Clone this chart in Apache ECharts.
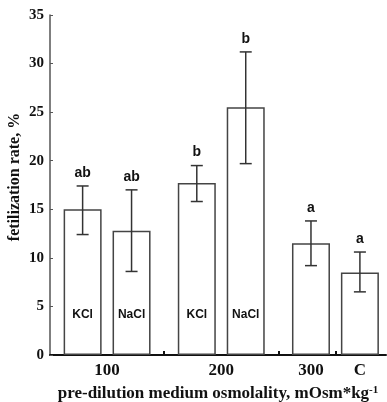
<!DOCTYPE html>
<html>
<head>
<meta charset="utf-8">
<script src="https://cdn.jsdelivr.net/npm/echarts@6/dist/echarts.min.js"></script>
<style>
  html, body { margin: 0; padding: 0; background: #fff; }
  #chart { width: 387px; height: 402px; }
</style>
</head>
<body>
<div id="chart"></div>
<script>
// bar data, left to right
var salts = ['KCl', 'NaCl', 'KCl', 'NaCl', '', ''];
var slots = [2, 5, 9, 12, 16, 19];           // x position on the slot axis
var means = [15.0, 12.8, 17.7, 25.5, 11.5, 8.5];
var errLow = [12.4, 8.6, 15.8, 19.7, 9.2, 6.5];
var errHigh = [17.4, 17.0, 19.5, 31.2, 13.8, 10.6];
var letters = ['ab', 'ab', 'b', 'b', 'a', 'a'];

// osmolality groups on the x axis
var groupNames = ['100', '200', '300', 'C'];
var groupCenters = [3.5, 10.5, 16, 19];
var groupBreaks = [7, 14, 17.5];

var yTicks = [0, 5, 10, 15, 20, 25, 30, 35];

var serif = '"Liberation Serif", "Times New Roman", serif';
var sans = '"Liberation Sans", Arial, sans-serif';

var chart = echarts.init(document.getElementById('chart'));

var barData = slots.map(function(s, i) { return [s, means[i]]; });
var errData = slots.map(function(s, i) { return [s, errLow[i], errHigh[i]]; });

var option = {
  animation: false,
  grid: { left: 50, right: 1, top: 15, bottom: 47, outerBoundsMode: 'none', containLabel: false },
  xAxis: {
    type: 'value',
    min: 0,
    max: 20.6,
    splitLine: { show: false },
    axisLine: { show: true, lineStyle: { color: '#111', width: 2 } },
    axisTick: {
      show: true, inside: true, length: 4,
      customValues: groupBreaks,
      lineStyle: { color: '#111', width: 2 }
    },
    axisLabel: {
      customValues: groupCenters,
      margin: 7,
      color: '#111',
      fontFamily: serif,
      fontWeight: 'bold',
      fontSize: 17,
      formatter: function(v) {
        var i = groupCenters.indexOf(v);
        return i >= 0 ? groupNames[i] : '';
      }
    },
    name: 'pre-dilution medium osmolality, mOsm*kg{sup|-1}',
    nameLocation: 'middle',
    nameGap: 30,
    nameMoveOverlap: false,
    nameTextStyle: {
      color: '#111',
      fontFamily: serif,
      fontWeight: 'bold',
      fontSize: 17,
      rich: {
        sup: { fontFamily: serif, fontWeight: 'bold', fontSize: 11, verticalAlign: 'top', lineHeight: 17, color: '#111' }
      }
    }
  },
  yAxis: {
    type: 'value',
    min: yTicks[0],
    max: yTicks[yTicks.length - 1],
    interval: 5,
    splitLine: { show: false },
    axisLine: { show: true, lineStyle: { color: '#555', width: 1.5 } },
    axisTick: { show: true, inside: true, length: 3, lineStyle: { color: '#555' } },
    axisLabel: {
      margin: 6,
      color: '#111',
      fontFamily: serif,
      fontWeight: 'bold',
      fontSize: 15
    },
    name: 'fetilization rate, %',
    nameLocation: 'middle',
    nameGap: 27,
    nameMoveOverlap: false,
    nameTextStyle: {
      color: '#111',
      fontFamily: serif,
      fontWeight: 'bold',
      fontSize: 16,
      padding: [0, 0, 0, 16]
    }
  },
  series: [
    {
      type: 'bar',
      data: barData,
      barWidth: 38,
      itemStyle: { color: '#fff', borderColor: '#444', borderWidth: 1.5 },
      label: {
        show: true,
        position: 'insideBottom',
        distance: 34,
        color: '#111',
        fontFamily: sans,
        fontWeight: 'bold',
        fontSize: 12,
        formatter: function(p) { return salts[p.dataIndex]; }
      },
      z: 2
    },
    {
      type: 'custom',
      data: errData,
      z: 3,
      renderItem: function(params, api) {
        var x = api.value(0);
        var top = api.coord([x, api.value(2)]);
        var bot = api.coord([x, api.value(1)]);
        var half = 6;
        var line = { stroke: '#333', lineWidth: 1.5 };
        return {
          type: 'group',
          children: [
            { type: 'line', shape: { x1: top[0], y1: top[1], x2: bot[0], y2: bot[1] }, style: line },
            { type: 'line', shape: { x1: top[0] - half, y1: top[1], x2: top[0] + half, y2: top[1] }, style: line },
            { type: 'line', shape: { x1: bot[0] - half, y1: bot[1], x2: bot[0] + half, y2: bot[1] }, style: line },
            {
              type: 'text',
              style: {
                text: letters[params.dataIndex],
                x: top[0], y: top[1] - 13,
                align: 'center', verticalAlign: 'middle',
                font: 'bold 14px ' + sans,
                fill: '#111'
              }
            }
          ]
        };
      }
    }
  ]
};

chart.setOption(option);
</script>
</body>
</html>
